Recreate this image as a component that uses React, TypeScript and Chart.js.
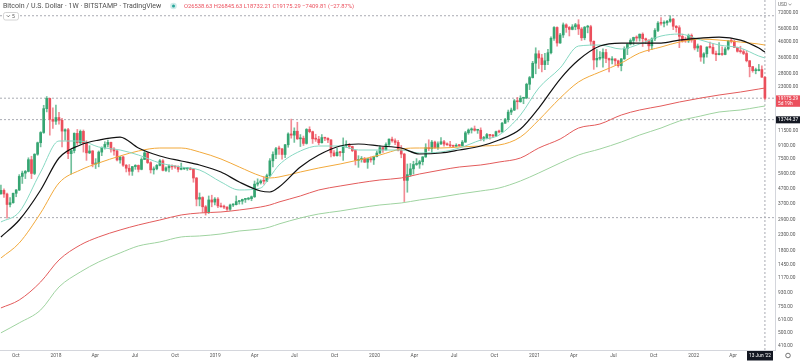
import React, { useEffect, useRef } from 'react';
import { Chart, registerables } from 'chart.js';

Chart.register(...registerables);

// ---------------- DATA ----------------
const START_DATE = '2017-08-28'; // week 0 (weekly candles, Monday open)
const TITLE = 'Bitcoin / U.S. Dollar · 1W · BITSTAMP · TradingView';
const OHLC_TEXT = 'O26538.63 H26845.63 L18732.21 C19175.29 −7409.81 (−27.87%)';
const INDICATOR_COUNT = '5';
const CURRENCY = 'USD';
const COUNTDOWN = '5d 19h';
const CROSS_WEEK = 250;
const CROSS_PRICE = 13744.37;
const CROSS_DATE_LABEL = "13 Jun '22";

const opens = [
  4350, 4580, 4330, 3680, 3780, 4380, 4610, 5690, 5990, 6150, 7380, 5960, 8030, 9600, 11250, 16300, 19100, 13800,
  13400, 14200, 13600, 11500, 11750, 8100, 8500, 11100, 9590, 11450, 9550, 8200, 8450, 6900, 7000, 8300, 8920, 9350,
  9650, 8700, 8450, 7350, 7700, 6770, 6460, 6160, 6630, 6750, 6350, 7400, 8200, 7050, 6300, 6400, 6750, 7250, 6250,
  6500, 6700, 6600, 6590, 6350, 6400, 6410, 6450, 6350, 5550, 4000, 4100, 3550, 3250, 3950, 3820,
  4000, 3600, 3550, 3530, 3420, 3650, 3670, 3850, 3880, 3980, 4000, 4030, 4150, 5050, 5150, 5300, 5280, 5750, 7250,
  8000, 8750, 8720, 8000, 9300, 11000, 10800, 11480, 10200, 10300, 9500, 11800, 11400, 10200, 10150, 9600, 10400,
  10300, 10030, 8200, 7850, 8300, 8220, 9200, 9210, 9050, 8500, 7300, 7400, 7500, 7100, 7490, 7350,
  7750, 8180, 8900, 8600, 9350, 10150, 9900, 9650, 8550, 8050, 5350, 5850, 6400, 6850, 6900, 7150, 7700, 8900, 8750,
  9700, 8900, 9450, 9750, 9400, 9300, 9150, 9090, 9200, 9180, 9700, 11200, 11700, 11900, 11650, 11660, 10250, 10300,
  10900, 10750, 10650, 11400, 11350, 13000, 13750, 15450, 15950, 18400, 18150, 19150, 19250, 23800, 26400,
  33000, 38200, 35800, 32300, 34300, 38850, 48600, 57500, 45200, 51200, 59900, 57500, 55800, 58100, 60000, 56200,
  49000, 57800, 58200, 46400, 34700, 35600, 35800, 39000, 35500, 34700, 35300, 34250, 31800, 35350, 41500, 44400,
  47000, 49250, 48800, 51800, 48300, 47300, 43200, 48200, 54900, 61500, 61300, 61850, 63300, 65500, 58600, 57300,
  50100, 46800, 46700, 50800,
  47300, 41800, 43100, 36300, 38200, 42400, 42200, 38400, 37700, 38400, 37800, 41200, 46800, 46400, 42200, 39700,
  39500, 38400, 34300, 31300, 29400, 29450, 29900, 26538.63,
];
const highs = [
  4980, 4700, 4400, 4100, 4400, 4640, 5850, 6180, 6250, 7600, 7780, 8100, 9700, 11400, 17170, 19666, 19200, 16500,
  17250, 15400, 14000, 11900, 12000, 8600, 11200, 11800, 11700, 11700, 9900, 9170, 8500, 7500, 8450, 9000, 9750, 9990,
  9700, 8900, 8520, 7750, 7780, 6850, 6840, 6650, 6830, 6800, 7600, 8500, 8250, 7150, 6600, 6850, 7400, 7400, 6600,
  6800, 6800, 6700, 6700, 7000, 6550, 6550, 6550, 6450, 5600, 4400, 4150, 3620, 4200, 4250, 4100,
  4100, 3760, 3650, 3560, 3700, 3720, 4200, 3900, 4000, 4050, 4100, 4200, 5300, 5480, 5400, 5650, 5900, 7500, 8350,
  8950, 9100, 8800, 9350, 11200, 13850, 12100, 13200, 10900, 10650, 11950, 12300, 11500, 10950, 10600, 10900, 10450,
  10350, 10100, 8500, 8800, 8400, 10350, 9900, 9500, 9100, 8500, 7850, 7750, 7650, 7500, 7700, 7800,
  8450, 9200, 8950, 9600, 10200, 10500, 10200, 9950, 9200, 8150, 6900, 6950, 7200, 7500, 7300, 7750, 9450, 10050, 9950,
  9850, 9750, 10400, 9950, 9600, 9800, 9250, 9450, 9350, 9950, 11450, 11900, 12100, 12450, 11800, 12100, 10600, 11100,
  10950, 10950, 11500, 11700, 13200, 14000, 15950, 16450, 18800, 19400, 19900, 19450, 24200, 26900, 34000,
  41950, 40100, 37900, 38500, 40950, 49700, 58300, 58000, 52600, 61700, 60900, 58400, 60100, 61300, 64900, 57500,
  58400, 59500, 59500, 46700, 40800, 39500, 41300, 41000, 35750, 36600, 35400, 34650, 35450, 42600, 44700, 48200,
  49500, 50500, 52000, 52900, 48800, 47400, 49000, 56600, 62900, 67000, 63700, 64300, 69000, 66300, 59300, 59100,
  51900, 49500, 51900, 52000,
  47500, 44500, 43500, 38900, 42600, 45800, 44700, 39800, 45400, 42600, 42300, 46900, 48200, 47100, 42400, 42950,
  40800, 40000, 34400, 31400, 30600, 32400, 31700, 26845.63,
];
const lows = [
  4300, 4100, 2980, 3540, 3750, 4150, 4560, 5100, 5500, 6100, 5500, 5850, 7900, 9000, 11100, 15500, 10800, 12000,
  12750, 12800, 9000, 10000, 7500, 5900, 8200, 9300, 9400, 8300, 7300, 8100, 6600, 6430, 6600, 7850, 8700, 9000,
  8300, 7900, 7250, 7000, 6650, 6100, 5800, 5780, 6350, 6100, 6300, 7380, 6950, 6000, 5900, 6300, 6700, 6200, 6150,
  6100, 6350, 6450, 6100, 6300, 6330, 6250, 6300, 5200, 3600, 3600, 3250, 3122, 3200, 3550, 3650,
  3500, 3530, 3450, 3350, 3360, 3560, 3650, 3700, 3700, 3800, 3950, 3900, 4100, 4900, 5050, 5050, 5250, 5700, 6600,
  7500, 8000, 7450, 7600, 8950, 10300, 9650, 10100, 9050, 9200, 9400, 11200, 9500, 9800, 9300, 9550, 9900,
  9600, 7700, 7750, 7800, 7800, 7300, 8900, 8750, 8350, 6800, 6550, 7100, 7050, 6450, 7100, 6850,
  7700, 8100, 8250, 8550, 9150, 9700, 9300, 8450, 7600, 3850, 4450, 5700, 5900, 6750, 6450, 6800, 7650, 8500, 8200,
  8800, 8650, 9300, 9100, 9200, 8950, 8950, 9050, 9050, 9150, 9650, 10950, 11150, 11500, 11100, 9900, 9850, 10200,
  10150, 10400, 10550, 11200, 11300, 12950, 13250, 14850, 15800, 16200, 18000, 17600, 19000, 21900, 26200,
  28000, 30400, 28850, 29900, 32300, 38100, 47000, 43000, 44900, 49200, 53300, 50400, 55400, 55500, 51500, 47000,
  47500, 52900, 43800, 30000, 31200, 34800, 31000, 33300, 28800, 32700, 32100, 31000, 29300, 35000, 37700, 43800,
  43900, 46400, 46500, 42800, 44700, 39600, 40800, 46900, 53900, 59600, 58000, 59500, 62300, 55600, 53500, 42000,
  45700, 45600, 45500, 45700,
  40600, 39600, 34000, 32900, 36300, 41700, 38000, 34400, 37600, 37200, 37600, 40500, 45200, 42100, 39200, 38600,
  37700, 33700, 26700, 28700, 28000, 29300, 26500, 18732.21,
];
const closes = [
  4580, 4330, 3680, 3780, 4380, 4610, 5690, 5990, 6150, 7380, 5960, 8030, 9600, 11250, 16300, 19100, 13800, 13400,
  14200, 13600, 11500, 11750, 8100, 8500, 11100, 9590, 11450, 9550, 8200, 8450, 6900, 7000, 8300, 8920, 9350, 9650,
  8700, 8450, 7350, 7700, 6770, 6460, 6160, 6630, 6750, 6350, 7400, 8200, 7050, 6300, 6400, 6750, 7250, 6250, 6500,
  6700, 6600, 6590, 6350, 6400, 6410, 6450, 6350, 5550, 4000, 4100, 3550, 3250, 3950, 3820, 4000,
  3600, 3550, 3530, 3420, 3650, 3670, 3850, 3880, 3980, 4000, 4030, 4150, 5050, 5150, 5300, 5280, 5750, 7250, 8000,
  8750, 8720, 8000, 9300, 11000, 10800, 11480, 10200, 10300, 9500, 11800, 11400, 10200, 10150, 9600, 10400, 10300,
  10030, 8200, 7850, 8300, 8220, 9200, 9210, 9050, 8500, 7300, 7400, 7500, 7100, 7490, 7350, 7750,
  8180, 8900, 8600, 9350, 10150, 9900, 9650, 8550, 8050, 5350, 5850, 6400, 6850, 6900, 7150, 7700, 8900, 8750, 9700,
  8900, 9450, 9750, 9400, 9300, 9150, 9090, 9200, 9180, 9700, 11200, 11700, 11900, 11650, 11660, 10250, 10300, 10900,
  10750, 10650, 11400, 11350, 13000, 13750, 15450, 15950, 18400, 18150, 19150, 19250, 23800, 26400, 33000,
  38200, 35800, 32300, 34300, 38850, 48600, 57500, 45200, 51200, 59900, 57500, 55800, 58100, 60000, 56200, 49000,
  57800, 58200, 46400, 34700, 35600, 35800, 39000, 35500, 34700, 35300, 34250, 31800, 35350, 41500, 44400, 47000,
  49250, 48800, 51800, 48300, 47300, 43200, 48200, 54900, 61500, 61300, 61850, 63300, 65500, 58600, 57300, 50100,
  46800, 46700, 50800, 47300,
  41800, 43100, 36300, 38200, 42400, 42200, 38400, 37700, 38400, 37800, 41200, 46800, 46400, 42200, 39700, 39500,
  38400, 34300, 31300, 29400, 29450, 29900, 26585.1, 19175.29,
];

// moving averages (week index, price)
const maWeeks = [0, 6, 13, 19, 26, 32, 39, 45, 52, 59, 65, 72, 78, 85, 88, 91, 98, 104, 111, 117, 124, 131, 137, 144,
  150, 157, 163, 170, 176, 183, 189, 196, 203, 209, 216, 222, 229, 235, 242, 248, 250];
const maTeal = [2805, 3275, 6095, 9860, 9860, 8985, 8575, 7935, 7010, 6585, 6285, 5218, 4609, 4753, 5640, 6795, 8445,
  9125, 9125, 8575, 8575, 8575, 8185, 8315, 8845, 10010, 10820, 14760, 22460, 30640, 43100, 43770, 41140, 44460,
  50330, 51930, 47300, 43770, 41780, 36900, 35780];
const maBlack = [2222, 2892, 4609, 7575, 9270, 10010, 10490, 8845, 7815, 7230, 6795, 6095, 5218, 4538, 4467, 4828,
  6585, 7935, 9125, 9410, 9125, 8845, 8060, 8185, 8575, 9125, 10010, 11880, 16460, 25820, 34690, 43100, 45150, 45150,
  45150, 47300, 48800, 49560, 47300, 41780, 39270];
const maOrange = [1603, 2024, 3225, 5137, 6285, 7010, 7815, 8445, 8845, 8845, 8315, 7460, 6585, 5730, 5553, 5640,
  6095, 6485, 6900, 7340, 7935, 8710, 8845, 8845, 8985, 9125, 9270, 10490, 13660, 19220, 24650, 28790, 33110, 38670,
  42430, 45860, 48050, 47300, 45860, 44460, 43770];
const maRed = [738, 835, 1105, 1554, 1962, 2222, 2476, 2677, 2892, 3126, 3225, 3275, 3378, 3540, 3651, 3825, 4200,
  4609, 4903, 5137, 5383, 5553, 5910, 6285, 6585, 6795, 7115, 7575, 8845, 10170, 12060, 12840, 14760, 15960, 16980,
  18070, 19220, 20140, 21100, 22110, 22460];
const maGreen = [501, 585, 715, 1022, 1290, 1507, 1733, 1932, 2056, 2222, 2256, 2328, 2438, 2515, 2594, 2719, 2983,
  3175, 3326, 3484, 3651, 3767, 3946, 4133, 4330, 4538, 4753, 5300, 6000, 7010, 7935, 8710, 9710, 10820, 12060, 13450,
  14540, 15470, 15960, 16720, 16980];

const levelPrices = [69000, 19175.29, 3000];

const yTicks = [410, 500, 610, 750, 930, 1170, 1450, 1800, 2300, 2900, 3700, 4700, 5900, 7500, 9100, 11500, 23000,
  28000, 36000, 46000, 56000, 72000];
const xTickDates = ['2017-10-01', '2018-01-01', '2018-04-01', '2018-07-01', '2018-10-01', '2019-01-01', '2019-04-01',
  '2019-07-01', '2019-10-01', '2020-01-01', '2020-04-01', '2020-07-01', '2020-10-01', '2021-01-01', '2021-04-01',
  '2021-07-01', '2021-10-01', '2022-01-01', '2022-04-01'];
const xTickLabels = ['Oct', '2018', 'Apr', 'Jul', 'Oct', '2019', 'Apr', 'Jul', 'Oct', '2020', 'Apr', 'Jul', 'Oct',
  '2021', 'Apr', 'Jul', 'Oct', '2022', 'Apr'];

// ---------------- LAYOUT / STYLE ----------------
const X_MIN = -0.3;
const X_MAX = 253.3;
const Y_MIN = 384;
const Y_MAX = 88100;
const UP = '#36a572';
const DOWN = '#eb4f5c';
const FONT = 'Roboto, "DejaVu Sans", sans-serif';

const weekOf = (d: string) => (Date.parse(d) - Date.parse(START_DATE)) / (7 * 864e5);

const overlayPlugin = {
  id: 'overlay',
  afterDraw(chart: any) {
    const { ctx, chartArea, scales } = chart;
    const ys = scales.y;
    const xs = scales.x;
    const f = (s: number) => `${s}px ${FONT}`;
    ctx.save();
    ctx.textBaseline = 'middle';
    ctx.textAlign = 'left';
    // header
    ctx.font = f(7);
    ctx.fillStyle = '#4f4f4f';
    ctx.fillText(TITLE, 3, 6.5);
    ctx.beginPath();
    ctx.arc(173.5, 6, 3.3, 0, Math.PI * 2);
    ctx.fillStyle = 'rgba(38,166,154,0.22)';
    ctx.fill();
    ctx.beginPath();
    ctx.arc(173.5, 6, 1.5, 0, Math.PI * 2);
    ctx.fillStyle = '#26a69a';
    ctx.fill();
    ctx.font = f(5.8);
    ctx.fillStyle = DOWN;
    ctx.fillText(OHLC_TEXT, 184, 6.5);
    // indicators badge
    ctx.fillStyle = '#fff';
    ctx.strokeStyle = '#c9c9c9';
    ctx.lineWidth = 0.8;
    ctx.beginPath();
    if (ctx.roundRect) ctx.roundRect(3.5, 12.5, 15, 7.5, 2);
    else ctx.rect(3.5, 12.5, 15, 7.5);
    ctx.fill();
    ctx.stroke();
    ctx.beginPath();
    ctx.moveTo(6.8, 15.3);
    ctx.lineTo(8.3, 16.8);
    ctx.lineTo(9.8, 15.3);
    ctx.strokeStyle = '#555';
    ctx.lineWidth = 0.8;
    ctx.stroke();
    ctx.fillStyle = '#555';
    ctx.font = f(5);
    ctx.fillText(INDICATOR_COUNT, 12, 16.4);
    // currency
    ctx.fillStyle = '#666';
    ctx.font = f(4.8);
    ctx.fillText(CURRENCY, 778, 4.5);
    ctx.beginPath();
    ctx.moveTo(788.5, 3.8);
    ctx.lineTo(790, 5.2);
    ctx.lineTo(791.5, 3.8);
    ctx.strokeStyle = '#777';
    ctx.lineWidth = 0.7;
    ctx.stroke();
    // last price label
    const last = closes[closes.length - 1];
    const py = ys.getPixelForValue(last);
    ctx.fillStyle = DOWN;
    ctx.fillRect(776, py - 2.8, 24, 11.4);
    ctx.fillStyle = '#fff';
    ctx.font = f(4.8);
    ctx.fillText(last.toFixed(2), 778, py + 0.8);
    ctx.fillText(COUNTDOWN, 778, py + 5.8);
    // crosshair price label
    const cy = ys.getPixelForValue(CROSS_PRICE);
    ctx.fillStyle = '#131722';
    ctx.fillRect(776, cy - 3.3, 24, 7);
    ctx.fillStyle = '#fff';
    ctx.fillText(CROSS_PRICE.toFixed(2), 778, cy + 0.3);
    // crosshair date label
    const cx = xs.getPixelForValue(CROSS_WEEK);
    let bx = cx - 13;
    if (bx + 26 > chartArea.right - 2) bx = chartArea.right - 28;
    ctx.fillStyle = '#131722';
    ctx.fillRect(bx, chartArea.bottom + 1, 26, 9.5);
    ctx.fillStyle = '#fff';
    ctx.textAlign = 'center';
    ctx.fillText(CROSS_DATE_LABEL, bx + 13, chartArea.bottom + 5.9);
    // settings gear
    ctx.beginPath();
    ctx.arc(788, 355.5, 2.3, 0, Math.PI * 2);
    ctx.strokeStyle = '#666';
    ctx.lineWidth = 0.9;
    ctx.stroke();
    ctx.restore();
  },
};

export default function App() {
  const ref = useRef<HTMLCanvasElement>(null);

  useEffect(() => {
    const canvas = ref.current;
    if (!canvas) return;
    const candleColors = closes.map((c, i) => (c >= opens[i] ? UP : DOWN));
    const wickColors = closes.map((c, i) => (c >= opens[i] ? 'rgba(54,165,114,0.7)' : 'rgba(235,79,92,0.65)'));

    const maLine = (vals: number[], color: string, width: number, order: number) => ({
      type: 'line',
      data: maWeeks.map((w, i) => ({ x: w, y: vals[i] })),
      borderColor: color,
      borderWidth: width,
      pointRadius: 0,
      cubicInterpolationMode: 'monotone',
      fill: false,
      order,
    });
    const dotted = (pts: { x: number; y: number }[]) => ({
      type: 'line',
      data: pts,
      borderColor: '#a9abb3',
      borderWidth: 1,
      borderDash: [2, 2],
      pointRadius: 0,
      fill: false,
      order: 10,
    });

    const datasets: any[] = [
      ...levelPrices.map((p) => dotted([{ x: X_MIN, y: p }, { x: X_MAX, y: p }])),
      dotted([{ x: X_MIN, y: CROSS_PRICE }, { x: X_MAX, y: CROSS_PRICE }]),
      dotted([{ x: CROSS_WEEK, y: Y_MIN }, { x: CROSS_WEEK, y: Y_MAX }]),
      {
        type: 'bar',
        data: lows.map((l, i) => ({ x: i, y: [l, highs[i]] })),
        backgroundColor: wickColors,
        barThickness: 1,
        grouped: false,
        borderWidth: 0,
        order: 6,
      },
      {
        type: 'bar',
        data: opens.map((o, i) => ({ x: i, y: [o, closes[i]] })),
        backgroundColor: candleColors,
        barThickness: 2,
        grouped: false,
        borderWidth: 0,
        minBarLength: 1,
        order: 5,
      },
      maLine(maGreen, '#9fd3a0', 1, 4),
      maLine(maRed, '#e35b5b', 1, 3),
      maLine(maOrange, '#f2a93b', 1, 2),
      maLine(maTeal, '#86d8c2', 1, 1),
      maLine(maBlack, '#111111', 1.2, 0),
    ];

    const xTickWeeks = xTickDates.map(weekOf);

    const chart = new Chart(canvas, {
      type: 'bar',
      data: { datasets },
      options: {
        animation: false,
        responsive: false,
        devicePixelRatio: 1,
        events: [],
        layout: { padding: 0 },
        plugins: { legend: { display: false }, tooltip: { enabled: false } },
        scales: {
          x: {
            type: 'linear',
            min: X_MIN,
            max: X_MAX,
            offset: false,
            grid: { display: true, drawOnChartArea: false, drawTicks: false, offset: false },
            border: { display: true, color: '#d4d6dc', width: 1 },
            afterBuildTicks: (s: any) => {
              s.ticks = xTickWeeks.map((v) => ({ value: v }));
            },
            afterFit: (s: any) => {
              s.height = 12;
              s.paddingLeft = 0;
              s.paddingRight = 0;
            },
            ticks: {
              autoSkip: false,
              maxRotation: 0,
              padding: 3,
              color: '#555',
              font: { size: 4.9, family: FONT },
              callback: (_v: any, i: number) => xTickLabels[i],
            },
          },
          y: {
            type: 'logarithmic',
            position: 'right',
            min: Y_MIN,
            max: Y_MAX,
            grid: { display: true, drawOnChartArea: false, drawTicks: false },
            border: { display: true, color: '#d4d6dc', width: 1 },
            afterBuildTicks: (s: any) => {
              s.ticks = yTicks.map((v) => ({ value: v }));
            },
            afterFit: (s: any) => {
              s.width = 25;
              s.paddingTop = 0;
              s.paddingBottom = 0;
            },
            ticks: {
              autoSkip: false,
              padding: 3,
              color: '#555',
              font: { size: 4.8, family: FONT },
              callback: (v: any) => Number(v).toFixed(2),
            },
          },
        },
      } as any,
      plugins: [overlayPlugin],
    } as any);
    return () => chart.destroy();
  }, []);

  return (
    <div style={{ position: 'fixed', left: 0, top: 0, width: 800, height: 362, background: '#fff' }}>
      <canvas ref={ref} width={800} height={362} style={{ display: 'block', width: 800, height: 362 }} />
    </div>
  );
}
